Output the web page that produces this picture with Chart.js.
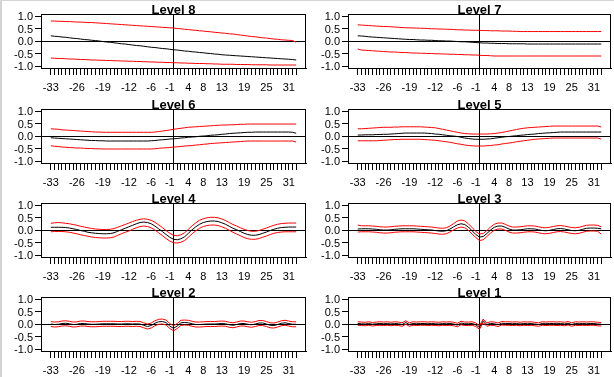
<!DOCTYPE html>
<html><head><meta charset="utf-8">
<script src="https://cdn.jsdelivr.net/npm/chart.js@4/dist/chart.umd.min.js"></script>
<style>
html,body{margin:0;padding:0;background:#fff;}
#wrap{position:relative;width:614px;height:377px;overflow:hidden;background:#fff;}
.p{position:absolute;width:307px;height:94px;}
canvas{display:block;}
#frame{position:absolute;left:0;top:0;width:612px;height:376px;border-top:1px solid #d4d4d4;border-left:2px solid #d4d4d4;pointer-events:none;}
</style></head><body>
<div id="wrap"><div id="frame"></div></div>
<script>
// lags -33..33
const lags = [-33,-32,-31,-30,-29,-28,-27,-26,-25,-24,-23,-22,-21,-20,-19,-18,-17,-16,-15,-14,-13,-12,-11,-10,-9,-8,-7,-6,-5,-4,-3,-2,-1,0,1,2,3,4,5,6,7,8,9,10,11,12,13,14,15,16,17,18,19,20,21,22,23,24,25,26,27,28,29,30,31,32,33];
const xTickLabels = [-33,-26,-19,-12,-6,-1,4,8,13,19,25,31];
const yTickValues = [-1,-0.5,0,0.5,1];
const levelNames = ['Level 8','Level 7','Level 6','Level 5','Level 4','Level 3','Level 2','Level 1'];

const est8 = [0.21,0.19,0.18,0.16,0.15,0.13,0.11,0.10,0.08,0.06,0.05,0.03,0.02,0.00,-0.02,-0.04,-0.05,-0.07,-0.09,-0.11,-0.12,-0.14,-0.16,-0.18,-0.19,-0.21,-0.23,-0.25,-0.26,-0.28,-0.30,-0.31,-0.33,-0.35,-0.36,-0.38,-0.40,-0.41,-0.43,-0.44,-0.46,-0.47,-0.49,-0.50,-0.52,-0.53,-0.55,-0.56,-0.57,-0.58,-0.59,-0.60,-0.61,-0.62,-0.63,-0.64,-0.65,-0.66,-0.67,-0.68,-0.69,-0.70,-0.71,-0.72,-0.73,-0.74,-0.76];
const hi8 = [0.80,0.80,0.79,0.79,0.78,0.78,0.77,0.76,0.76,0.75,0.74,0.74,0.73,0.72,0.71,0.70,0.69,0.68,0.67,0.66,0.65,0.64,0.63,0.62,0.61,0.60,0.59,0.58,0.57,0.56,0.55,0.54,0.53,0.52,0.50,0.49,0.47,0.46,0.44,0.43,0.41,0.40,0.38,0.37,0.35,0.34,0.32,0.31,0.29,0.28,0.26,0.24,0.22,0.20,0.18,0.17,0.15,0.13,0.12,0.10,0.08,0.07,0.05,0.04,0.03,0.02,-0.05];
const lo8 = [-0.68,-0.69,-0.70,-0.70,-0.71,-0.72,-0.72,-0.73,-0.74,-0.74,-0.75,-0.76,-0.76,-0.77,-0.77,-0.78,-0.78,-0.79,-0.79,-0.80,-0.80,-0.81,-0.81,-0.82,-0.82,-0.83,-0.83,-0.84,-0.84,-0.85,-0.85,-0.86,-0.86,-0.87,-0.87,-0.88,-0.88,-0.89,-0.89,-0.90,-0.90,-0.90,-0.91,-0.91,-0.92,-0.92,-0.93,-0.93,-0.93,-0.93,-0.94,-0.94,-0.94,-0.94,-0.95,-0.95,-0.95,-0.95,-0.95,-0.96,-0.96,-0.96,-0.96,-0.96,-0.96,-0.96,-0.96];

const est7 = [0.21,0.20,0.19,0.17,0.16,0.15,0.14,0.13,0.12,0.11,0.10,0.09,0.08,0.07,0.06,0.06,0.05,0.04,0.04,0.03,0.03,0.02,0.01,0.01,0.00,0.00,-0.01,-0.02,-0.03,-0.03,-0.04,-0.05,-0.06,-0.07,-0.08,-0.08,-0.09,-0.09,-0.10,-0.10,-0.10,-0.11,-0.11,-0.11,-0.11,-0.11,-0.12,-0.12,-0.12,-0.12,-0.12,-0.12,-0.12,-0.12,-0.12,-0.12,-0.12,-0.12,-0.12,-0.12,-0.12,-0.12,-0.12,-0.12,-0.12,-0.12,-0.12];
const hi7 = [0.65,0.64,0.63,0.62,0.61,0.60,0.59,0.58,0.58,0.57,0.56,0.55,0.54,0.53,0.53,0.52,0.52,0.51,0.51,0.50,0.49,0.49,0.48,0.48,0.47,0.47,0.46,0.45,0.45,0.44,0.44,0.43,0.43,0.43,0.42,0.42,0.41,0.41,0.41,0.40,0.40,0.40,0.39,0.39,0.38,0.38,0.38,0.38,0.38,0.38,0.38,0.38,0.38,0.38,0.38,0.38,0.38,0.38,0.38,0.38,0.38,0.38,0.38,0.38,0.38,0.38,0.38];
const lo7 = [-0.32,-0.36,-0.37,-0.38,-0.39,-0.40,-0.41,-0.42,-0.43,-0.44,-0.44,-0.45,-0.46,-0.46,-0.47,-0.48,-0.48,-0.49,-0.49,-0.50,-0.50,-0.51,-0.51,-0.52,-0.52,-0.53,-0.53,-0.54,-0.54,-0.55,-0.55,-0.56,-0.56,-0.57,-0.58,-0.58,-0.59,-0.60,-0.60,-0.60,-0.60,-0.60,-0.60,-0.60,-0.60,-0.60,-0.60,-0.60,-0.60,-0.60,-0.60,-0.60,-0.60,-0.60,-0.60,-0.60,-0.60,-0.60,-0.60,-0.60,-0.60,-0.60,-0.60,-0.60,-0.60,-0.60,-0.60];

const est6 = [-0.07,-0.08,-0.09,-0.10,-0.11,-0.12,-0.13,-0.14,-0.15,-0.16,-0.17,-0.18,-0.18,-0.19,-0.19,-0.20,-0.20,-0.20,-0.20,-0.20,-0.20,-0.20,-0.20,-0.20,-0.20,-0.20,-0.20,-0.19,-0.18,-0.16,-0.15,-0.14,-0.12,-0.11,-0.10,-0.08,-0.07,-0.05,-0.04,-0.03,-0.01,0.00,0.01,0.03,0.04,0.05,0.07,0.08,0.10,0.11,0.12,0.13,0.14,0.15,0.15,0.16,0.16,0.16,0.16,0.16,0.16,0.16,0.16,0.16,0.16,0.15,0.11];
const hi6 = [0.29,0.28,0.27,0.25,0.24,0.23,0.22,0.21,0.20,0.19,0.18,0.17,0.16,0.16,0.15,0.15,0.15,0.15,0.15,0.15,0.15,0.15,0.15,0.15,0.15,0.15,0.15,0.15,0.16,0.18,0.20,0.22,0.24,0.27,0.29,0.31,0.33,0.35,0.36,0.37,0.38,0.39,0.40,0.41,0.42,0.43,0.44,0.44,0.45,0.45,0.46,0.47,0.47,0.48,0.48,0.48,0.48,0.48,0.48,0.48,0.48,0.48,0.48,0.48,0.48,0.48,0.48];
const lo6 = [-0.39,-0.41,-0.42,-0.44,-0.45,-0.46,-0.47,-0.48,-0.48,-0.49,-0.50,-0.50,-0.51,-0.51,-0.52,-0.52,-0.52,-0.52,-0.52,-0.52,-0.52,-0.52,-0.52,-0.52,-0.52,-0.52,-0.52,-0.52,-0.51,-0.49,-0.48,-0.47,-0.46,-0.44,-0.43,-0.42,-0.40,-0.39,-0.38,-0.36,-0.35,-0.33,-0.32,-0.30,-0.29,-0.28,-0.27,-0.26,-0.25,-0.24,-0.23,-0.22,-0.21,-0.20,-0.20,-0.20,-0.20,-0.20,-0.20,-0.20,-0.20,-0.20,-0.20,-0.20,-0.20,-0.20,-0.24];

const est5 = [0.04,0.04,0.05,0.05,0.05,0.06,0.06,0.07,0.07,0.08,0.09,0.10,0.11,0.12,0.12,0.12,0.12,0.12,0.12,0.11,0.10,0.08,0.07,0.05,0.03,0.01,0.00,-0.02,-0.05,-0.08,-0.10,-0.12,-0.13,-0.13,-0.13,-0.12,-0.11,-0.09,-0.07,-0.05,-0.03,-0.02,0.00,0.01,0.03,0.04,0.06,0.07,0.08,0.10,0.11,0.12,0.13,0.14,0.15,0.16,0.16,0.16,0.16,0.16,0.16,0.16,0.16,0.16,0.16,0.16,0.16];
const hi5 = [0.29,0.29,0.30,0.31,0.32,0.33,0.34,0.35,0.35,0.35,0.36,0.36,0.37,0.37,0.37,0.37,0.37,0.37,0.36,0.35,0.34,0.33,0.30,0.27,0.24,0.21,0.18,0.15,0.12,0.10,0.09,0.08,0.08,0.08,0.08,0.08,0.09,0.10,0.12,0.14,0.17,0.20,0.23,0.26,0.29,0.31,0.33,0.34,0.35,0.36,0.37,0.38,0.39,0.40,0.40,0.40,0.40,0.40,0.40,0.40,0.40,0.40,0.40,0.40,0.40,0.40,0.36];
const lo5 = [-0.19,-0.19,-0.19,-0.19,-0.19,-0.19,-0.18,-0.17,-0.16,-0.15,-0.14,-0.14,-0.13,-0.13,-0.13,-0.13,-0.13,-0.13,-0.14,-0.15,-0.16,-0.17,-0.19,-0.21,-0.23,-0.25,-0.28,-0.31,-0.33,-0.36,-0.38,-0.39,-0.40,-0.40,-0.40,-0.39,-0.38,-0.36,-0.35,-0.32,-0.30,-0.28,-0.26,-0.23,-0.21,-0.19,-0.17,-0.15,-0.13,-0.12,-0.11,-0.10,-0.09,-0.08,-0.08,-0.08,-0.08,-0.08,-0.08,-0.08,-0.08,-0.08,-0.08,-0.08,-0.08,-0.08,-0.12];

const est4 = [0.11,0.11,0.11,0.11,0.10,0.08,0.05,0.02,-0.02,-0.05,-0.09,-0.11,-0.13,-0.14,-0.15,-0.15,-0.14,-0.11,-0.05,0.01,0.07,0.13,0.19,0.25,0.30,0.32,0.30,0.25,0.16,0.05,-0.06,-0.18,-0.29,-0.37,-0.39,-0.35,-0.27,-0.13,0.01,0.13,0.23,0.30,0.34,0.36,0.36,0.34,0.29,0.23,0.15,0.07,0.01,-0.06,-0.13,-0.18,-0.21,-0.21,-0.18,-0.13,-0.08,-0.02,0.03,0.07,0.10,0.11,0.12,0.12,0.12];
const hi4 = [0.27,0.29,0.30,0.29,0.27,0.25,0.22,0.19,0.15,0.12,0.09,0.06,0.04,0.03,0.02,0.02,0.03,0.06,0.11,0.17,0.22,0.28,0.34,0.39,0.43,0.45,0.43,0.39,0.31,0.21,0.10,-0.02,-0.13,-0.21,-0.23,-0.19,-0.11,0.03,0.17,0.29,0.39,0.45,0.49,0.51,0.51,0.49,0.44,0.38,0.30,0.22,0.16,0.09,0.03,-0.02,-0.05,-0.05,-0.02,0.03,0.08,0.14,0.19,0.23,0.26,0.27,0.28,0.28,0.28];
const lo4 = [-0.07,-0.06,-0.06,-0.06,-0.07,-0.09,-0.12,-0.15,-0.19,-0.22,-0.25,-0.28,-0.30,-0.31,-0.32,-0.32,-0.31,-0.28,-0.21,-0.15,-0.09,-0.04,0.03,0.09,0.14,0.16,0.14,0.09,0.00,-0.11,-0.22,-0.34,-0.44,-0.51,-0.52,-0.49,-0.42,-0.29,-0.15,-0.03,0.07,0.14,0.18,0.20,0.20,0.18,0.13,0.07,-0.01,-0.09,-0.16,-0.23,-0.30,-0.35,-0.37,-0.37,-0.34,-0.29,-0.24,-0.18,-0.13,-0.10,-0.08,-0.07,-0.07,-0.07,-0.07];

const est3 = [0.04,0.05,0.05,0.05,0.04,0.03,0.01,0.00,0.00,0.01,0.03,0.04,0.05,0.05,0.05,0.05,0.04,0.03,0.02,0.01,0.00,-0.02,-0.04,-0.05,-0.03,0.04,0.13,0.21,0.25,0.22,0.12,-0.03,-0.18,-0.28,-0.26,-0.14,0.00,0.11,0.16,0.16,0.11,0.04,0.00,0.00,0.01,0.03,0.05,0.05,0.04,0.01,-0.02,-0.03,-0.01,0.02,0.05,0.06,0.04,0.01,-0.02,-0.03,-0.01,0.03,0.07,0.08,0.08,0.07,0.05];
const hi3 = [0.20,0.17,0.17,0.17,0.16,0.15,0.13,0.12,0.12,0.13,0.15,0.16,0.17,0.17,0.17,0.17,0.16,0.15,0.14,0.13,0.12,0.10,0.08,0.07,0.09,0.16,0.26,0.36,0.40,0.37,0.25,0.10,-0.06,-0.16,-0.14,-0.02,0.12,0.23,0.28,0.28,0.23,0.16,0.12,0.12,0.13,0.15,0.17,0.17,0.16,0.13,0.10,0.09,0.11,0.14,0.17,0.18,0.16,0.13,0.10,0.09,0.11,0.15,0.19,0.20,0.20,0.19,0.13];
const lo3 = [-0.08,-0.07,-0.07,-0.07,-0.08,-0.09,-0.11,-0.12,-0.12,-0.11,-0.09,-0.08,-0.07,-0.07,-0.07,-0.07,-0.08,-0.09,-0.10,-0.11,-0.12,-0.14,-0.16,-0.17,-0.15,-0.08,0.01,0.08,0.12,0.09,-0.01,-0.16,-0.30,-0.42,-0.39,-0.26,-0.12,-0.01,0.04,0.04,-0.01,-0.08,-0.12,-0.12,-0.11,-0.09,-0.07,-0.07,-0.08,-0.11,-0.14,-0.15,-0.13,-0.10,-0.07,-0.06,-0.08,-0.11,-0.14,-0.15,-0.13,-0.09,-0.05,-0.04,-0.04,-0.05,-0.16];

const est2 = [0.00,-0.02,-0.01,0.02,0.03,0.01,-0.02,-0.01,0.02,0.02,0.00,-0.01,-0.01,0.00,0.01,0.01,0.01,0.01,0.00,0.00,0.01,0.01,0.00,0.01,0.00,-0.05,-0.10,-0.06,0.03,0.09,0.10,0.06,-0.08,-0.17,-0.08,0.05,0.06,0.05,0.01,-0.02,-0.02,-0.01,0.00,0.00,0.00,0.01,0.02,0.01,-0.03,-0.05,-0.02,0.02,0.02,-0.01,-0.03,0.00,0.04,0.04,0.00,-0.05,-0.06,-0.02,0.03,0.05,0.02,-0.01,-0.01];
const hi2 = [0.10,0.08,0.09,0.12,0.13,0.11,0.08,0.09,0.12,0.12,0.10,0.09,0.09,0.10,0.11,0.11,0.11,0.11,0.10,0.10,0.11,0.11,0.10,0.11,0.10,0.05,0.00,0.04,0.13,0.19,0.20,0.16,0.02,-0.07,0.02,0.15,0.16,0.15,0.11,0.08,0.08,0.09,0.10,0.10,0.10,0.11,0.12,0.11,0.07,0.05,0.08,0.12,0.12,0.09,0.07,0.10,0.14,0.14,0.10,0.05,0.04,0.08,0.13,0.15,0.12,0.09,0.09];
const lo2 = [-0.10,-0.12,-0.11,-0.08,-0.07,-0.09,-0.12,-0.11,-0.08,-0.08,-0.10,-0.11,-0.11,-0.10,-0.09,-0.09,-0.09,-0.09,-0.10,-0.10,-0.09,-0.09,-0.10,-0.09,-0.10,-0.15,-0.20,-0.16,-0.07,-0.01,0.00,-0.04,-0.18,-0.27,-0.18,-0.05,-0.04,-0.05,-0.09,-0.12,-0.12,-0.11,-0.10,-0.10,-0.10,-0.09,-0.08,-0.09,-0.13,-0.15,-0.12,-0.08,-0.08,-0.11,-0.13,-0.10,-0.06,-0.06,-0.10,-0.15,-0.16,-0.12,-0.07,-0.05,-0.08,-0.11,-0.11];

const est1 = [0.02,0.01,0.00,0.02,-0.01,0.01,0.02,0.01,0.02,0.00,0.02,0.01,-0.02,0.06,-0.02,0.02,0.01,0.02,0.02,0.01,0.02,0.01,0.00,0.02,0.01,0.02,0.00,-0.04,0.04,0.01,0.01,0.02,-0.03,-0.14,0.13,-0.02,0.02,0.01,-0.03,0.03,0.02,0.02,0.01,0.02,0.00,0.02,0.01,0.02,0.00,-0.02,0.02,0.01,0.02,0.02,0.01,0.02,0.00,0.03,-0.02,0.02,0.01,0.02,0.01,0.02,0.02,0.00,-0.01];
const hi1 = [0.09,0.08,0.07,0.09,0.06,0.08,0.09,0.08,0.09,0.07,0.09,0.08,0.05,0.13,0.05,0.09,0.08,0.09,0.09,0.08,0.09,0.08,0.07,0.09,0.08,0.09,0.07,0.03,0.11,0.08,0.08,0.09,0.04,-0.07,0.20,0.05,0.09,0.08,0.04,0.10,0.09,0.09,0.08,0.09,0.07,0.09,0.08,0.09,0.07,0.05,0.09,0.08,0.09,0.09,0.08,0.09,0.07,0.10,0.05,0.09,0.08,0.09,0.08,0.09,0.09,0.07,0.06];
const lo1 = [-0.05,-0.06,-0.07,-0.05,-0.08,-0.06,-0.05,-0.06,-0.05,-0.07,-0.05,-0.06,-0.09,-0.01,-0.09,-0.05,-0.06,-0.05,-0.05,-0.06,-0.05,-0.06,-0.07,-0.05,-0.06,-0.05,-0.07,-0.11,-0.03,-0.06,-0.06,-0.05,-0.10,-0.21,0.06,-0.09,-0.05,-0.06,-0.10,-0.04,-0.05,-0.05,-0.06,-0.05,-0.07,-0.05,-0.06,-0.05,-0.07,-0.09,-0.05,-0.06,-0.05,-0.05,-0.06,-0.05,-0.07,-0.04,-0.09,-0.05,-0.06,-0.05,-0.06,-0.05,-0.05,-0.07,-0.08];

const estimates = [est8, est7, est6, est5, est4, est3, est2, est1];
const uppers = [hi8, hi7, hi6, hi5, hi4, hi3, hi2, hi1];
const lowers = [lo8, lo7, lo6, lo5, lo4, lo3, lo2, lo1];

const FONT = "'Liberation Sans', Arial, sans-serif";
const rowTops = [0, 95, 189, 283];
const colLefts = [0, 307];

const boxPlugin = {
  id: 'box',
  afterDraw(chart) {
    const a = chart.chartArea, c = chart.ctx;
    c.save();
    c.strokeStyle = '#000';
    c.lineWidth = 1;
    c.strokeRect(Math.round(a.left) + 0.5, Math.round(a.top) + 0.5, Math.round(a.right) - Math.round(a.left) - 1, Math.round(a.bottom) - Math.round(a.top));
    c.restore();
  }
};

function pts(arr) { return arr.map((v, i) => ({ x: lags[i], y: v })); }
const zeroColor = (c) => (c.tick && c.tick.value === 0) ? '#000' : 'rgba(0,0,0,0)';

levelNames.forEach((name, k) => {
  const r = Math.floor(k / 2), col = k % 2;
  const div = document.createElement('div');
  div.className = 'p';
  div.style.left = colLefts[col] + 'px';
  div.style.top = rowTops[r] + 'px';
  const cv = document.createElement('canvas');
  cv.width = 307; cv.height = 94;
  div.appendChild(cv);
  document.getElementById('wrap').insertBefore(div, document.getElementById('frame'));
  new Chart(cv, {
    type: 'line',
    data: {
      datasets: [
        { data: pts(uppers[k]), borderColor: '#ff0000', borderWidth: 1, pointRadius: 0, tension: 0, fill: false },
        { data: pts(lowers[k]), borderColor: '#ff0000', borderWidth: 1, pointRadius: 0, tension: 0, fill: false },
        { data: pts(estimates[k]), borderColor: '#000000', borderWidth: 1, pointRadius: 0, tension: 0, fill: false }
      ]
    },
    options: {
      responsive: false, animation: false, devicePixelRatio: 1,
      layout: { padding: { left: 0, right: col === 0 ? 1 : 3, top: 0, bottom: 0 } },
      plugins: {
        legend: { display: false }, tooltip: { enabled: false },
        title: { display: true, text: name, fullSize: false, color: '#000',
          font: { family: FONT, size: 13, weight: 'bold', lineHeight: 0.62 }, padding: { top: 6, bottom: 0 } }
      },
      scales: {
        x: {
          type: 'linear', min: -35.64, max: 35.64,
          afterBuildTicks(s) { s.ticks = lags.map(v => ({ value: v })); },
          afterFit(s) { s.height = 26; },
          ticks: { autoSkip: false, maxRotation: 0, minRotation: 0, padding: 6, color: '#000',
            font: { family: FONT, size: 11 },
            callback: (v) => xTickLabels.includes(v) ? String(v) : '' },
          grid: { drawOnChartArea: true, color: zeroColor, tickColor: '#000', tickLength: 7, lineWidth: 1 },
          border: { display: true, color: '#000' }
        },
        y: {
          min: -1.08, max: 1.08,
          afterBuildTicks(s) { s.ticks = yTickValues.map(v => ({ value: v })); },
          afterFit(s) { s.width = 41; },
          ticks: { autoSkip: false, padding: 2, labelOffset: 1, color: '#000', font: { family: FONT, size: 11, lineHeight: 1 },
            callback: (v) => Number(v).toFixed(1) },
          grid: { drawOnChartArea: true, color: zeroColor, tickColor: '#000', tickLength: 6, lineWidth: 1 },
          border: { display: true, color: '#000' }
        }
      }
    },
    plugins: [boxPlugin]
  });
});
</script>
</body></html>
